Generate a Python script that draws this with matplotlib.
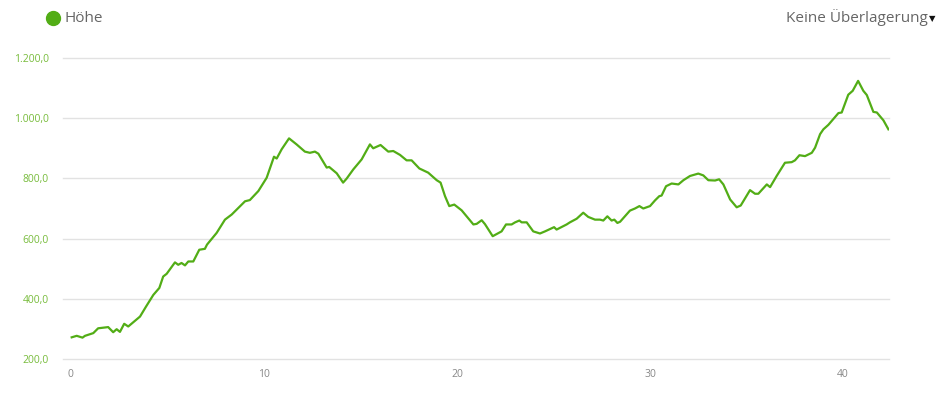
import matplotlib.pyplot as plt
from matplotlib.lines import Line2D
from matplotlib.ticker import FuncFormatter

# distance in km, elevation in m
dist_km = [0.04, 0.3, 0.6, 0.73, 1.16, 1.41, 1.93, 2.19, 2.37, 2.54, 2.76, 2.97,
           3.58, 3.89, 4.27, 4.58, 4.78, 4.96, 5.39, 5.56, 5.73, 5.91, 6.08, 6.34,
           6.65, 6.94, 7.05, 7.55, 7.98, 8.33, 9.02, 9.27, 9.71, 10.14, 10.52, 10.66,
           10.92, 11.30, 11.69, 12.12, 12.38, 12.64, 12.82, 13.25, 13.38, 13.77, 14.10,
           14.28, 14.63, 15.06, 15.49, 15.66, 16.04, 16.44, 16.70, 17.05, 17.39, 17.65,
           18.05, 18.51, 18.95, 19.15, 19.38, 19.60, 19.86, 20.24, 20.85, 21.02, 21.28,
           21.45, 21.85, 22.31, 22.54, 22.83, 23.01, 23.23, 23.35, 23.61, 23.95, 24.30,
           24.56, 25.03, 25.16, 25.68, 25.85, 26.20, 26.54, 26.80, 27.15, 27.41, 27.58,
           27.79, 28.01, 28.15, 28.31, 28.45, 28.96, 29.22, 29.45, 29.65, 30.0, 30.26,
           30.48, 30.60, 30.83, 31.12, 31.47, 31.73, 32.07, 32.50, 32.76, 33.02, 33.37,
           33.58, 33.80, 34.15, 34.49, 34.70, 35.18, 35.44, 35.61, 36.05, 36.22, 36.56,
           36.99, 37.34, 37.51, 37.74, 38.03, 38.38, 38.55, 38.81, 38.98, 39.24, 39.76,
           39.93, 40.27, 40.50, 40.78, 41.05, 41.23, 41.57, 41.75, 42.09, 42.35]
elev_m = [272, 277, 271, 277, 286, 302, 306, 289, 299, 290, 317, 308,
          341, 374, 413, 436, 474, 483, 521, 513, 519, 511, 524, 524,
          563, 566, 580, 619, 663, 680, 724, 728, 758, 802, 872, 866,
          897, 933, 913, 889, 885, 889, 882, 836, 838, 817, 786,
          799, 830, 863, 913, 900, 911, 889, 891, 878, 860, 860,
          833, 819, 794, 786, 741, 708, 713, 694, 647, 649, 661,
          648, 608, 624, 647, 647, 654, 660, 654, 654, 624, 617,
          624, 638, 630, 647, 654, 666, 686, 672, 663, 663, 660,
          674, 660, 663, 652, 656, 693, 700, 708, 700, 708, 727,
          741, 743, 774, 783, 780, 794, 808, 816, 810, 794, 793,
          797, 780, 730, 704, 710, 761, 749, 749, 780, 771, 808,
          852, 854, 860, 877, 874, 885, 902, 947, 963, 978, 1017,
          1019, 1078, 1091, 1124, 1091, 1077, 1021, 1019, 993, 963]

y_ticks = [200, 400, 600, 800, 1000, 1200]
x_ticks = [0, 10, 20, 30, 40]

green = '#52ad16'
plt.rcParams['font.family'] = ['Open Sans', 'DejaVu Sans']

fig = plt.figure(figsize=(9.49, 3.96), dpi=100)
ax = fig.add_axes([63 / 949, 1 - 359 / 396, (889 - 63) / 949, (359 - 58) / 396])

ax.plot(dist_km, elev_m, color=green, lw=1.6, solid_joinstyle='round')

ax.set_xlim(-0.41, 42.38)
ax.set_ylim(200, 1200)
ax.set_yticks(y_ticks)
ax.set_xticks(x_ticks)
ax.yaxis.set_major_formatter(FuncFormatter(
    lambda v, p: f'{v:,.1f}'.replace(',', 'X').replace('.', ',').replace('X', '.')))
ax.grid(axis='y', color='#e2e2e2', lw=1)
for gl in ax.get_ygridlines():
    gl.set_clip_on(False)
ax.set_axisbelow(True)
for s in ax.spines.values():
    s.set_visible(False)
ax.tick_params(axis='y', length=0, pad=10, labelsize=7.5, labelcolor='#78bc3c')
ax.tick_params(axis='x', length=0, pad=7, labelsize=7.5, labelcolor='#888888')

# header
fig.add_artist(Line2D([53 / 949], [1 - 18 / 396], marker='o', markersize=10,
                      color=green, transform=fig.transFigure))
fig.text(64 / 949, 1 - 18 / 396, 'Höhe', fontsize=11, color='#666666', va='center')
fig.text(928 / 949, 1 - 18 / 396, 'Keine Überlagerung', fontsize=11,
         color='#666666', va='center', ha='right')
fig.text(929 / 949, 1 - 19 / 396, '▼', fontsize=6, color='#111111',
         va='center', ha='left', family='DejaVu Sans')

fig.savefig('out.png', dpi=100)
